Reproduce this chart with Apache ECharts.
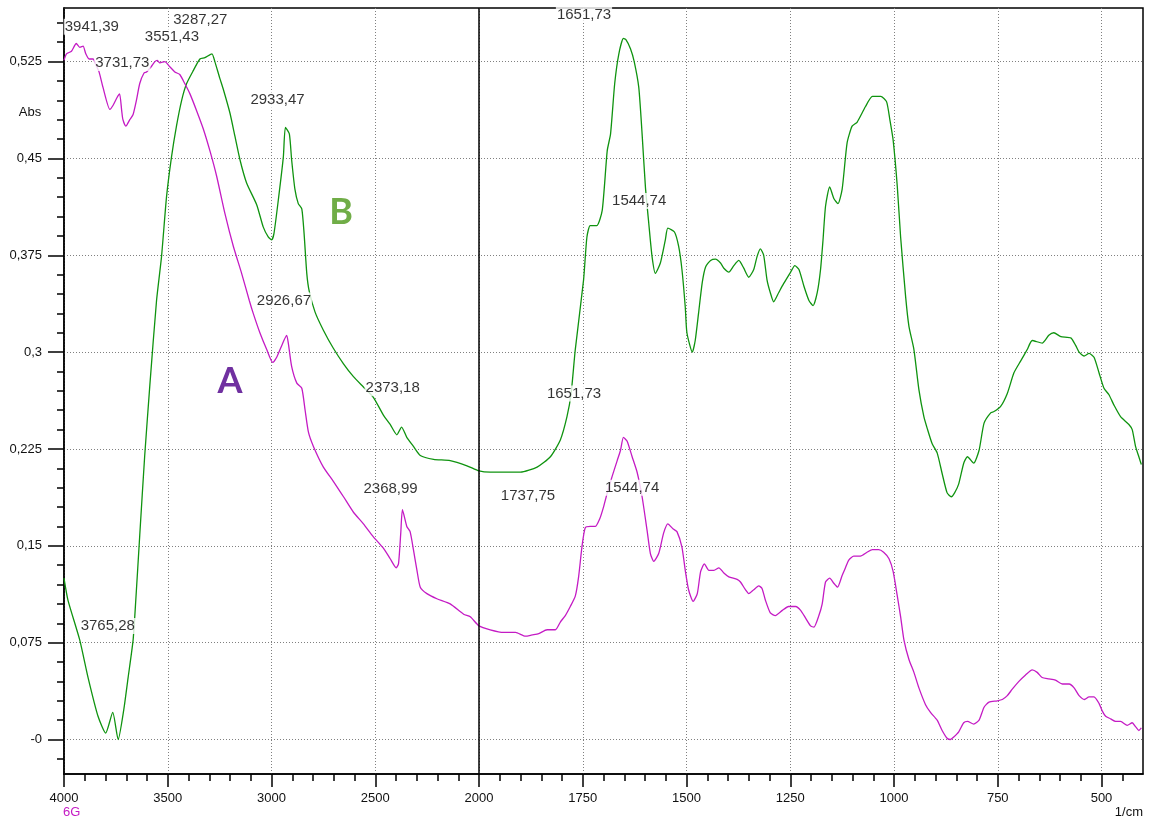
<!DOCTYPE html>
<html>
<head>
<meta charset="utf-8">
<script src="https://cdn.jsdelivr.net/npm/echarts@6/dist/echarts.min.js"></script>
<style>
  html, body { margin: 0; padding: 0; background: #fff; }
  #chart { width: 1153px; height: 820px; }
</style>
</head>
<body>
<div id="chart"></div>
<script>
// Wavenumber tick labels (1/cm) and absorbance ticks
const xTickWn = [4000, 3500, 3000, 2500, 2000, 1750, 1500, 1250, 1000, 750, 500];
const yTickValues = [0, 0.075, 0.15, 0.225, 0.3, 0.375, 0.45, 0.525];
const yTickLabels = ['-0', '0,075', '0,15', '0,225', '0,3', '0,375', '0,45', '0,525'];

// Spectrum A (magenta): [wavenumber 1/cm, absorbance]
const spectrumA = [
  [4000,0.526],[3988,0.531],[3964,0.533],[3941,0.539],[3924,0.536],[3908,0.537],[3895,0.531],
  [3879,0.527],[3860,0.527],[3845,0.522],[3831,0.517],[3812,0.505],[3779,0.488],[3764,0.491],
  [3745,0.497],[3732,0.500],[3722,0.487],[3716,0.480],[3702,0.475],[3683,0.480],[3667,0.484],
  [3651,0.495],[3635,0.508],[3615,0.516],[3602,0.517],[3580,0.521],[3562,0.525],[3551,0.526],
  [3538,0.524],[3514,0.525],[3490,0.521],[3466,0.517],[3442,0.515],[3418,0.508],[3393,0.500],
  [3361,0.487],[3329,0.473],[3297,0.456],[3264,0.436],[3224,0.407],[3184,0.382],[3144,0.361],
  [3107,0.340],[3088,0.330],[3056,0.315],[3023,0.302],[2994,0.292],[2975,0.296],[2951,0.305],
  [2927,0.313],[2919,0.307],[2903,0.289],[2878,0.276],[2854,0.272],[2838,0.255],[2822,0.238],
  [2798,0.227],[2750,0.211],[2702,0.200],[2653,0.188],[2605,0.176],[2557,0.167],[2509,0.157],
  [2460,0.148],[2428,0.140],[2399,0.133],[2388,0.136],[2377,0.160],[2369,0.178],[2348,0.165],
  [2332,0.161],[2316,0.147],[2299,0.131],[2283,0.118],[2251,0.113],[2203,0.109],[2139,0.105],
  [2074,0.097],[2042,0.095],[2000,0.088],[1973,0.085],[1941,0.083],[1912,0.083],[1888,0.080],
  [1872,0.081],[1856,0.082],[1836,0.085],[1816,0.085],[1804,0.091],[1792,0.096],[1780,0.103],
  [1768,0.111],[1760,0.126],[1752,0.149],[1744,0.164],[1732,0.165],[1720,0.165],[1709,0.171],
  [1700,0.180],[1691,0.191],[1679,0.204],[1667,0.216],[1659,0.224],[1652,0.234],[1643,0.231],
  [1631,0.219],[1619,0.207],[1607,0.188],[1595,0.162],[1587,0.144],[1579,0.138],[1567,0.144],
  [1555,0.160],[1545,0.167],[1532,0.163],[1523,0.161],[1511,0.149],[1503,0.131],[1495,0.116],
  [1484,0.107],[1474,0.113],[1466,0.130],[1457,0.136],[1446,0.131],[1434,0.131],[1422,0.133],
  [1410,0.129],[1398,0.126],[1378,0.124],[1370,0.122],[1358,0.116],[1350,0.113],[1338,0.116],
  [1326,0.119],[1318,0.117],[1310,0.108],[1298,0.098],[1286,0.096],[1269,0.100],[1254,0.103],
  [1237,0.103],[1225,0.100],[1213,0.094],[1201,0.088],[1193,0.087],[1181,0.096],[1173,0.105],
  [1165,0.122],[1155,0.125],[1145,0.121],[1136,0.118],[1125,0.127],[1117,0.133],[1109,0.139],
  [1097,0.142],[1081,0.142],[1065,0.145],[1052,0.147],[1037,0.147],[1025,0.145],[1012,0.140],
  [1002,0.130],[992,0.111],[984,0.095],[976,0.077],[964,0.062],[952,0.052],[940,0.040],
  [924,0.027],[912,0.021],[896,0.015],[884,0.007],[872,0.001],[864,0.000],[856,0.002],
  [844,0.006],[832,0.013],[823,0.014],[808,0.012],[795,0.015],[783,0.025],[771,0.029],
  [751,0.030],[739,0.031],[727,0.034],[715,0.039],[699,0.045],[683,0.050],[667,0.054],
  [655,0.052],[643,0.048],[627,0.047],[611,0.046],[594,0.043],[578,0.043],[566,0.040],
  [554,0.034],[541,0.031],[530,0.033],[518,0.033],[506,0.028],[498,0.022],[490,0.018],
  [478,0.016],[466,0.014],[454,0.014],[438,0.011],[426,0.013],[418,0.010],[410,0.007],[404,0.009]
];

// Spectrum B (green): [wavenumber 1/cm, absorbance]
const spectrumB = [
  [4000,0.125],[3981,0.108],[3924,0.077],[3884,0.048],[3836,0.018],[3799,0.005],[3765,0.021],
  [3739,0.000],[3712,0.023],[3691,0.048],[3667,0.077],[3654,0.108],[3635,0.158],[3611,0.220],
  [3586,0.275],[3554,0.340],[3530,0.374],[3506,0.420],[3482,0.451],[3458,0.475],[3433,0.495],
  [3409,0.508],[3377,0.518],[3345,0.527],[3321,0.528],[3287,0.531],[3273,0.525],[3249,0.512],
  [3233,0.504],[3200,0.485],[3176,0.467],[3152,0.449],[3120,0.431],[3071,0.414],[3040,0.397],
  [3015,0.389],[2999,0.387],[2988,0.392],[2967,0.418],[2943,0.451],[2933,0.474],[2914,0.469],
  [2903,0.449],[2887,0.426],[2871,0.415],[2854,0.411],[2843,0.392],[2830,0.361],[2818,0.347],
  [2790,0.331],[2750,0.317],[2702,0.303],[2653,0.291],[2605,0.281],[2557,0.273],[2509,0.265],
  [2460,0.251],[2428,0.244],[2396,0.236],[2373,0.242],[2348,0.234],[2316,0.227],[2283,0.220],
  [2219,0.217],[2139,0.216],[2058,0.212],[2000,0.208],[1973,0.207],[1900,0.207],[1860,0.211],
  [1828,0.219],[1804,0.232],[1788,0.250],[1778,0.268],[1768,0.302],[1748,0.356],[1740,0.389],
  [1732,0.398],[1716,0.398],[1703,0.410],[1691,0.456],[1683,0.469],[1673,0.508],[1663,0.531],
  [1652,0.543],[1646,0.542],[1635,0.535],[1626,0.525],[1615,0.505],[1607,0.469],[1599,0.428],
  [1591,0.400],[1583,0.374],[1575,0.361],[1563,0.369],[1551,0.387],[1545,0.396],[1529,0.393],
  [1519,0.382],[1511,0.364],[1503,0.335],[1499,0.315],[1486,0.300],[1479,0.309],[1471,0.330],
  [1462,0.354],[1454,0.366],[1442,0.371],[1430,0.372],[1418,0.369],[1410,0.365],[1398,0.362],
  [1386,0.367],[1374,0.371],[1362,0.365],[1350,0.358],[1338,0.364],[1330,0.374],[1322,0.380],
  [1314,0.375],[1306,0.356],[1298,0.346],[1290,0.339],[1278,0.346],[1266,0.353],[1249,0.362],
  [1239,0.367],[1229,0.364],[1217,0.351],[1205,0.340],[1195,0.336],[1185,0.346],[1177,0.364],
  [1171,0.387],[1165,0.413],[1155,0.428],[1145,0.419],[1135,0.415],[1125,0.426],[1113,0.462],
  [1101,0.475],[1089,0.478],[1069,0.490],[1052,0.498],[1032,0.498],[1018,0.494],[1010,0.480],
  [1002,0.464],[992,0.428],[984,0.389],[972,0.343],[964,0.320],[952,0.302],[940,0.271],
  [928,0.250],[920,0.241],[908,0.229],[896,0.222],[884,0.206],[872,0.191],[862,0.188],
  [854,0.191],[844,0.198],[832,0.214],[823,0.219],[808,0.214],[795,0.224],[783,0.245],
  [767,0.253],[759,0.254],[743,0.258],[727,0.268],[711,0.284],[695,0.293],[679,0.302],
  [667,0.309],[643,0.307],[627,0.313],[615,0.315],[598,0.312],[574,0.311],[562,0.305],
  [554,0.300],[542,0.297],[530,0.299],[518,0.296],[506,0.284],[494,0.272],[482,0.267],
  [470,0.259],[454,0.250],[434,0.244],[426,0.240],[418,0.227],[410,0.219],[404,0.213]
];

// Peak annotations: text, anchor wavenumber and anchor absorbance of each tag
const peakTexts = ['3941,39','3287,27','3551,43','3731,73','2933,47','2926,67','2373,18',
                   '2368,99','3765,28','1651,73','1544,74','1651,73','1737,75','1544,74'];
const peakTagWn = [3866, 3343, 3480, 3719, 2971, 2940, 2416, 2426, 3789, 1747, 1614, 1771, 1882, 1631];
const peakTagAbs = [0.552, 0.557, 0.544, 0.524, 0.495, 0.340, 0.272, 0.194, 0.088, 0.561, 0.417, 0.268, 0.189, 0.195];

const COLOR_A = '#c41bc4';
const COLOR_B = '#0f930f';
const FONT = "'Liberation Sans', Arial, sans-serif";

// The wavenumber axis is drawn at half density above 2000 1/cm.
function toAxis(w) { return w <= 2000 ? w : 2000 + (w - 2000) / 2; }
function fromAxis(u) { return u <= 2000 ? u : 2000 + (u - 2000) * 2; }

const X_MIN = 400, X_MAX = 3000;
const Y_MIN = -0.0267, Y_MAX = 0.5665;

const xMajor = xTickWn.map(toAxis);
const xMinor = [];
for (let u = 450; u < X_MAX; u += 50) xMinor.push(u);
const yMinor = [];
for (let k = -1; k <= 37; k++) yMinor.push(+(k * 0.015).toFixed(3));

function yLabel(v) {
  for (let i = 0; i < yTickValues.length; i++) {
    if (Math.abs(yTickValues[i] - v) < 1e-6) return yTickLabels[i];
  }
  return '';
}

const axisBlack = { color: '#000', width: 1.5 };
const gridDots = { color: '#808080', width: 1, type: [1, 2] };

const chart = echarts.init(document.getElementById('chart'), null, { renderer: 'canvas' });
chart.setOption({
  animation: false,
  backgroundColor: '#fff',
  grid: {
    left: 64, right: 10, top: 8, bottom: 46,
    show: true, borderColor: '#000', borderWidth: 1.5, backgroundColor: '#fff'
  },
  xAxis: [
    {
      type: 'value', min: X_MIN, max: X_MAX, inverse: true, position: 'bottom',
      axisLine: { onZero: false, lineStyle: axisBlack },
      axisTick: { customValues: xMajor, length: 13, lineStyle: axisBlack },
      axisLabel: {
        customValues: xMajor, margin: 18, color: '#111', fontSize: 13, fontFamily: FONT,
        formatter: v => String(Math.round(fromAxis(v)))
      },
      splitLine: { show: true, lineStyle: gridDots }
    },
    {
      type: 'value', min: X_MIN, max: X_MAX, inverse: true, position: 'bottom',
      axisLine: { show: false, onZero: false },
      axisTick: { customValues: xMinor, length: 7, lineStyle: axisBlack },
      axisLabel: { show: false },
      splitLine: { show: false }
    }
  ],
  yAxis: [
    {
      type: 'value', min: Y_MIN, max: Y_MAX, position: 'left',
      axisLine: { onZero: false, lineStyle: axisBlack },
      axisTick: { customValues: yTickValues, length: 16, lineStyle: axisBlack },
      axisLabel: {
        customValues: yTickValues, margin: 22, color: '#111', fontSize: 13, fontFamily: FONT,
        formatter: v => yLabel(v)
      },
      splitLine: { show: true, lineStyle: gridDots }
    },
    {
      type: 'value', min: Y_MIN, max: Y_MAX, position: 'left',
      axisLine: { show: false, onZero: false },
      axisTick: { customValues: yMinor, length: 7, lineStyle: axisBlack },
      axisLabel: { show: false },
      splitLine: { show: false }
    }
  ],
  series: [
    {
      name: 'B', type: 'line', xAxisIndex: 0, yAxisIndex: 0,
      data: spectrumB.map(p => [toAxis(p[0]), p[1]]),
      showSymbol: false, smooth: 0.2, z: 3,
      lineStyle: { color: COLOR_B, width: 1.3 },
      markLine: {
        silent: true, symbol: ['none', 'none'], label: { show: false },
        lineStyle: { color: '#000', width: 1.5, type: 'solid' },
        data: [{ xAxis: 2000 }]
      }
    },
    {
      name: 'A', type: 'line', xAxisIndex: 0, yAxisIndex: 0,
      data: spectrumA.map(p => [toAxis(p[0]), p[1]]),
      showSymbol: false, smooth: 0.2, z: 3,
      lineStyle: { color: COLOR_A, width: 1.3 }
    },
    {
      name: 'peaks', type: 'scatter', xAxisIndex: 0, yAxisIndex: 0,
      symbolSize: 0, silent: true, z: 6,
      data: peakTagWn.map((w, i) => ({ value: [toAxis(w), peakTagAbs[i]], name: peakTexts[i] })),
      label: {
        show: true, position: [0, 0], align: 'center', verticalAlign: 'middle',
        formatter: '{b}', color: '#000', fontSize: 15, fontFamily: FONT,
        backgroundColor: '#fff', padding: [1, 1, 0, 1]
      }
    }
  ],
  graphic: [
    { type: 'text', x: 30, y: 112, z: 10,
      style: { text: 'Abs', align: 'center', verticalAlign: 'middle', font: "13px 'Liberation Sans', Arial, sans-serif", fill: '#111' } },
    { type: 'text', x: 1143, y: 812, z: 10,
      style: { text: '1/cm', align: 'right', verticalAlign: 'middle', font: "13px 'Liberation Sans', Arial, sans-serif", fill: '#111' } },
    { type: 'text', x: 63, y: 812, z: 10,
      style: { text: '6G', align: 'left', verticalAlign: 'middle', font: "13px 'Liberation Sans', Arial, sans-serif", fill: COLOR_A } },
    { type: 'text', x: 230, y: 381, z: 10,
      style: { text: 'A', align: 'center', verticalAlign: 'middle', font: "bold 36px Lato, 'Liberation Sans', sans-serif", fill: '#7030a0' } },
    { type: 'text', x: 341, y: 212, z: 10,
      style: { text: 'B', align: 'center', verticalAlign: 'middle', font: "bold 36px Lato, 'Liberation Sans', sans-serif", fill: '#70ad47' } }
  ]
});
</script>
</body>
</html>
